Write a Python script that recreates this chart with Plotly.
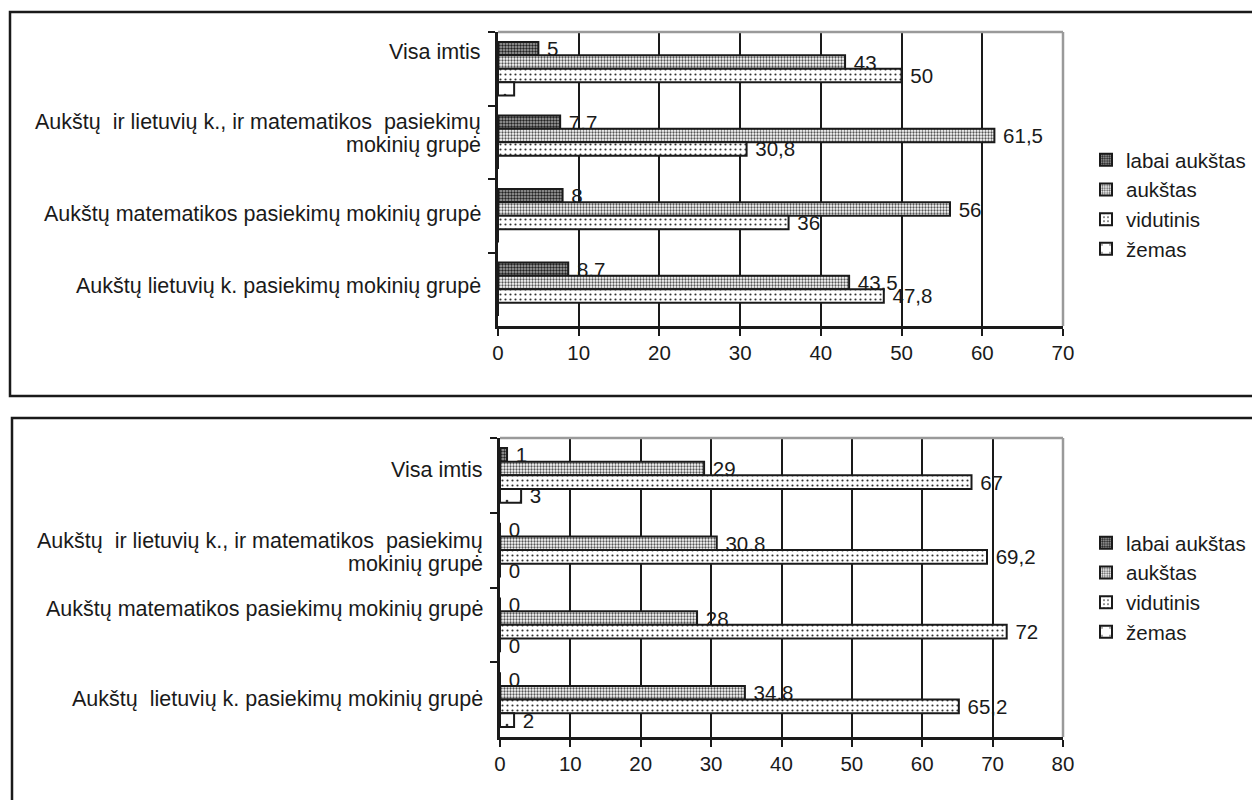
import plotly.graph_objects as go

# ---------------- data ----------------
categories_top = [
    "Visa imtis",
    "Aukštų\u00a0 ir lietuvių k., ir matematikos\u00a0 pasiekimų<br>mokinių grupė",
    "Aukštų matematikos pasiekimų mokinių grupė",
    "Aukštų lietuvių k. pasiekimų mokinių grupė",
]
categories_bottom = [
    "Visa imtis",
    "Aukštų\u00a0 ir lietuvių k., ir matematikos\u00a0 pasiekimų<br>mokinių grupė",
    "Aukštų matematikos pasiekimų mokinių grupė",
    "Aukštų\u00a0 lietuvių k. pasiekimų mokinių grupė",
]
series_names = ["labai aukštas", "aukštas", "vidutinis", "žemas"]

top_labai = [5, 7.7, 8, 8.7]
top_aukstas = [43, 61.5, 56, 43.5]
top_vidutinis = [50, 30.8, 36, 47.8]
top_zemas = [2, 0, 0, 0]

bot_labai = [1, 0, 0, 0]
bot_aukstas = [29, 30.8, 28, 34.8]
bot_vidutinis = [67, 69.2, 72, 65.2]
bot_zemas = [3, 0, 0, 2]

top_ticks = [0, 10, 20, 30, 40, 50, 60, 70]
bot_ticks = [0, 10, 20, 30, 40, 50, 60, 70, 80]

# ---------------- styles ----------------
FONT = "Liberation Sans, Arial, sans-serif"
INK = "#1a1a1a"
patterns = [
    dict(shape=".", bgcolor="#a8a8a8", fgcolor="#222222", size=3, solidity=0.5),
    dict(shape=".", bgcolor="#ffffff", fgcolor="#555555", size=3, solidity=0.45),
    dict(shape=".", bgcolor="#ffffff", fgcolor="#333333", size=5, solidity=0.15),
    dict(shape=".", bgcolor="#ffffff", fgcolor="#333333", size=14, solidity=0.03),
]
# vertical nudges (px, up positive) of category labels, and line step
label_shift_top = [17, 9, 2, 3]
label_shift_bottom = [5, -2, 16, 1]
LINE_STEP = 23
CAT_FONT = 21.5
NUM_FONT = 20.5

# page body has an 8px margin in the browser
OFF = 8
W, H = 1260 - OFF, 800 - OFF


def px(x):
    return (x - OFF) / W


def py(y):
    return 1 - (y - OFF) / H


def fmt(v):
    return "\u00a0" + (f"{v:g}".replace(".", ","))


fig = go.Figure()

top_series = [top_labai, top_aukstas, top_vidutinis, top_zemas]
bot_series = [bot_labai, bot_aukstas, bot_vidutinis, bot_zemas]

for i, (name, vals) in enumerate(zip(series_names, top_series)):
    texts = [fmt(v) for v in vals] if i < 3 else ["" for _ in vals]
    fig.add_trace(go.Bar(
        y=categories_top, x=vals, orientation="h", name=name,
        xaxis="x", yaxis="y", legend="legend",
        marker=dict(color="#ffffff", pattern=patterns[i],
                    line=dict(color=INK, width=2)),
        text=texts, textposition="outside", cliponaxis=False,
        constraintext="none",
        textfont=dict(family=FONT, size=NUM_FONT, color=INK),
        hoverinfo="skip",
    ))

for i, (name, vals) in enumerate(zip(series_names, bot_series)):
    texts = [fmt(v) for v in vals]
    fig.add_trace(go.Bar(
        y=categories_bottom, x=vals, orientation="h", name=name,
        xaxis="x2", yaxis="y2", legend="legend2",
        marker=dict(color="#ffffff", pattern=patterns[i],
                    line=dict(color=INK, width=2)),
        text=texts, textposition="outside", cliponaxis=False,
        constraintext="none",
        textfont=dict(family=FONT, size=NUM_FONT, color=INK),
        hoverinfo="skip",
    ))

xaxis_common = dict(
    showline=True, linecolor=INK, linewidth=2.5,
    ticks="outside", ticklen=7, tickwidth=2, tickcolor=INK,
    showgrid=True, gridcolor=INK, gridwidth=2,
    zeroline=False, automargin=False, ticklabelstandoff=0,
    tickfont=dict(family=FONT, size=NUM_FONT, color=INK),
)
yaxis_common = dict(
    type="category", autorange="reversed",
    showline=True, linecolor=INK, linewidth=2.5,
    ticks="outside", ticklen=7, tickwidth=2, tickcolor=INK,
    tickson="boundaries", showgrid=False, zeroline=False,
    automargin=False, showticklabels=False,
)

fig.update_layout(
    width=W, height=H, template="none",
    paper_bgcolor="white", plot_bgcolor="white",
    margin=dict(l=0, r=0, t=0, b=0),
    barmode="group", bargap=0.27, bargroupgap=0,
    font=dict(family=FONT, size=20, color=INK),
    xaxis=dict(domain=[px(498), px(1063)], anchor="y",
               range=[0, 70], tickvals=top_ticks, **xaxis_common),
    yaxis=dict(domain=[py(326), py(32)], anchor="x", **yaxis_common),
    xaxis2=dict(domain=[px(500), px(1063)], anchor="y2",
                range=[0, 80], tickvals=bot_ticks, **xaxis_common),
    yaxis2=dict(domain=[py(737), py(438)], anchor="x2", **yaxis_common),
    legend=dict(x=px(1086), y=py(140), xanchor="left", yanchor="top",
                font=dict(family=FONT, size=20.5, color=INK),
                bgcolor="rgba(0,0,0,0)", itemwidth=30, traceorder="normal"),
    legend2=dict(x=px(1086), y=py(523), xanchor="left", yanchor="top",
                 font=dict(family=FONT, size=20.5, color=INK),
                 bgcolor="rgba(0,0,0,0)", itemwidth=30, traceorder="normal"),
    showlegend=True,
)

# category labels as annotations (allow per-label nudges)
annotations = []
for cats, shifts, yref, xright in ((categories_top, label_shift_top, "y", 483),
                                    (categories_bottom, label_shift_bottom, "y2", 485)):
    for cat, sh in zip(cats, shifts):
        lines = cat.split("<br>")
        n = len(lines)
        for k, line in enumerate(lines):
            dy = sh + ((n - 1) / 2 - k) * LINE_STEP
            annotations.append(dict(
                x=px(xright), xref="paper", y=cat, yref=yref,
                text=line, showarrow=False, xanchor="right", yanchor="middle",
                yshift=dy, font=dict(family=FONT, size=CAT_FONT, color=INK),
            ))
fig.update_layout(annotations=annotations)

shapes = []
# outer frames
shapes.append(dict(type="rect", xref="paper", yref="paper",
                   x0=px(10), x1=px(1275), y0=py(396), y1=py(12),
                   line=dict(color=INK, width=2.5), fillcolor="rgba(0,0,0,0)"))
shapes.append(dict(type="rect", xref="paper", yref="paper",
                   x0=px(12), x1=px(1275), y0=py(815), y1=py(418),
                   line=dict(color=INK, width=2.5), fillcolor="rgba(0,0,0,0)"))
# grey plot-area borders (top and right)
for xr, yr in (("x domain", "y domain"), ("x2 domain", "y2 domain")):
    shapes.append(dict(type="line", xref=xr, yref=yr, x0=0, x1=1, y0=1, y1=1,
                       line=dict(color="#9a9a9a", width=2.5)))
    shapes.append(dict(type="line", xref=xr, yref=yr, x0=1, x1=1, y0=0, y1=1,
                       line=dict(color="#9a9a9a", width=2.5)))
fig.update_layout(shapes=shapes)

fig.write_html("out.html")
